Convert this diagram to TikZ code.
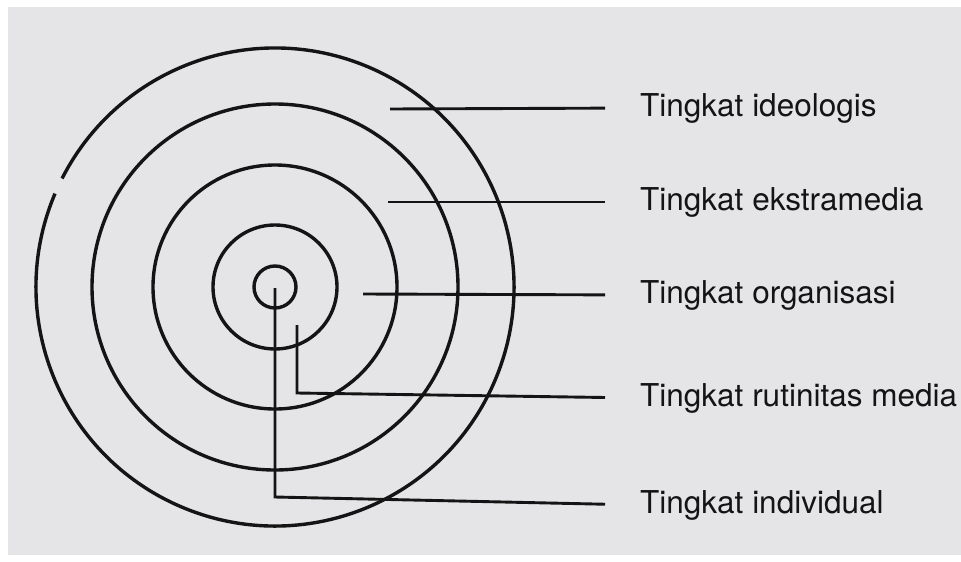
\documentclass[tikz,border=0pt]{standalone}
\usepackage{fontspec}
\setmainfont{TeX Gyre Heros}
\usepackage{xcolor}
\definecolor{colPaper}{RGB}{229,229,231}
\colorlet{colInk}{black!92}
\usepackage{tikz}
\usetikzlibrary{positioning, calc}

\tikzset{
  ring/.style={draw=colInk, line width=3.4pt},
  leader/.style={draw=colInk, line width=2.9pt, shorten >=35pt},
  levelname/.style={anchor=west, inner sep=0pt, font=\fontsize{31.5}{34}\selectfont, text=colInk}
}

\begin{document}
\begin{tikzpicture}[x=1pt, y=-1pt]
	\useasboundingbox (0,0) rectangle (961,562);
	\fill[colPaper] (8,7) rectangle (961,555);
	\coordinate (ctr) at (275,287);
	% rings
	\draw[ring] ([shift={(157:239pt)}]ctr) arc[start angle=157, end angle=513, radius=239pt];
	\draw[ring] (ctr) circle[radius=183pt];
	\draw[ring] (ctr) circle[radius=122pt];
	\draw[ring] (ctr) circle[radius=62pt];
	\draw[ring] (ctr) circle[radius=21pt];
	% labels
	\node[levelname] (ideo) at (640,108) {Tingkat ideologis};
	\node[levelname] (ekst) at (640,202) {Tingkat ekstramedia};
	\node[levelname] (orga) at (640,295) {Tingkat organisasi};
	\node[levelname] (rutin) at (640,398) {Tingkat rutinitas media};
	\node[levelname] (indiv) at (640,505) {Tingkat individual};
	% leader lines
	\coordinate (a1) at (390,109);
	\coordinate (a2) at (388,202);
	\coordinate (a3) at (363,294);
	\coordinate (a4) at (297,325);
	\coordinate (b4) at (297,393);
	\coordinate (a5) at (275,288);
	\coordinate (b5) at (275,497);
	\draw[leader] (a1) -- (ideo.west);
	\draw[leader] (a2) -- (ekst.west);
	\draw[leader] (a3) -- (orga.west);
	\draw[leader] (a4) -- (b4) -- (rutin.west);
	\draw[leader] (a5) -- (b5) -- (indiv.west);
\end{tikzpicture}
\end{document}
